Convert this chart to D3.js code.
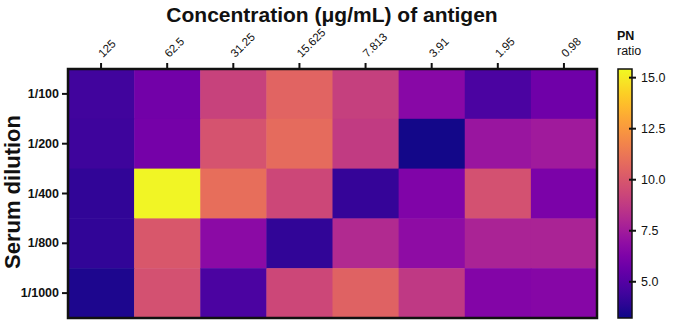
<!DOCTYPE html>
<html>
<head>
<meta charset="utf-8">
<script src="https://cdn.jsdelivr.net/npm/d3@7"></script>
<style>
  body { margin: 0; background: #fff; }
  #container { width: 676px; height: 320px; }
  text { font-family: "Liberation Sans", Arial, sans-serif; }
</style>
</head>
<body>
<div id="container"></div>
<script>
// concentrations (columns) and serum dilutions (rows)
const concentrations = ["125", "62.5", "31.25", "15.625", "7.813", "3.91", "1.95", "0.98"];
const dilutions = ["1/100", "1/200", "1/400", "1/800", "1/1000"];

// PN ratio per row
const pn_1_100  = [4.4, 5.9, 9.1, 10.5, 9.0, 6.6, 4.7, 5.8];
const pn_1_200  = [4.3, 6.0, 9.8, 10.8, 8.8, 3.3, 7.2, 7.4];
const pn_1_400  = [4.0, 15.3, 10.9, 9.3, 4.1, 6.3, 9.7, 6.2];
const pn_1_800  = [4.0, 10.0, 6.7, 4.0, 8.1, 6.8, 7.8, 7.8];
const pn_1_1000 = [3.5, 9.7, 4.7, 9.3, 10.4, 8.7, 6.4, 6.5];

const colorTicks = [5.0, 7.5, 10.0, 12.5, 15.0];
const colorDomain = [3.2, 15.4];

const rows = [pn_1_100, pn_1_200, pn_1_400, pn_1_800, pn_1_1000];
const cells = [];
rows.forEach((vals, r) => {
  vals.forEach((v, c) => cells.push({row: dilutions[r], col: concentrations[c], value: v}));
});

const margin = {top: 69, left: 68};
const width = 529, height = 249;

const svg = d3.select("#container")
  .append("svg")
  .attr("width", 676)
  .attr("height", 320);

const g = svg.append("g")
  .attr("transform", `translate(${margin.left},${margin.top})`);

const x = d3.scaleBand().domain(concentrations).range([0, width]);
const y = d3.scaleBand().domain(dilutions).range([0, height]);
const color = d3.scaleSequential(d3.interpolatePlasma).domain(colorDomain);

g.selectAll(".cell")
  .data(cells)
  .enter()
  .append("rect")
  .attr("class", "cell")
  .attr("x", d => x(d.col))
  .attr("y", d => y(d.row))
  .attr("width", x.bandwidth() + 0.5)
  .attr("height", y.bandwidth() + 0.5)
  .attr("fill", d => color(d.value));

// frame
g.append("rect")
  .attr("width", width)
  .attr("height", height)
  .attr("fill", "none")
  .attr("stroke", "#111")
  .attr("stroke-width", 2.5);

// top axis
const xAxis = g.append("g")
  .call(d3.axisTop(x).tickSize(6).tickSizeOuter(0));
xAxis.select(".domain").remove();
xAxis.selectAll(".tick line").attr("stroke", "#111").attr("stroke-width", 2);
xAxis.selectAll(".tick text")
  .attr("font-size", "11.5px")
  .attr("fill", "#111")
  .attr("text-anchor", "start")
  .attr("x", 0)
  .attr("y", 0)
  .attr("dy", null)
  .attr("transform", "translate(2,-11) rotate(-45)");

// left axis
const yAxis = g.append("g")
  .call(d3.axisLeft(y).tickSize(6).tickSizeOuter(0).tickPadding(3));
yAxis.select(".domain").remove();
yAxis.selectAll(".tick line").attr("stroke", "#111").attr("stroke-width", 2);
yAxis.selectAll(".tick text")
  .attr("font-size", "12.5px")
  .attr("font-weight", "bold")
  .attr("fill", "#111");

// titles
svg.append("text")
  .attr("x", 332)
  .attr("y", 22)
  .attr("text-anchor", "middle")
  .attr("font-size", "21px")
  .attr("font-weight", "bold")
  .attr("fill", "#111")
  .text("Concentration (μg/mL) of antigen");

svg.append("text")
  .attr("transform", "translate(20,192) rotate(-90)")
  .attr("text-anchor", "middle")
  .attr("font-size", "22px")
  .attr("font-weight", "bold")
  .attr("fill", "#111")
  .text("Serum dilution");

// colour bar
const barX = 618, barW = 14;
const cy = d3.scaleLinear().domain(colorDomain).range([318, 69]);

const defs = svg.append("defs");
const grad = defs.append("linearGradient")
  .attr("id", "plasma")
  .attr("x1", 0).attr("y1", 1).attr("x2", 0).attr("y2", 0);
d3.range(0, 1.001, 0.05).forEach(t => {
  grad.append("stop")
    .attr("offset", t)
    .attr("stop-color", d3.interpolatePlasma(t));
});

svg.append("rect")
  .attr("x", barX)
  .attr("y", 69)
  .attr("width", barW)
  .attr("height", 249)
  .attr("fill", "url(#plasma)")
  .attr("stroke", "#111")
  .attr("stroke-width", 1.5);

const cAxis = svg.append("g")
  .attr("transform", `translate(${barX + barW},0)`)
  .call(d3.axisRight(cy).tickValues(colorTicks).tickFormat(d3.format(".1f")).tickSize(4).tickPadding(5));
cAxis.select(".domain").remove();
cAxis.selectAll(".tick line").attr("stroke", "#111").attr("stroke-width", 2).attr("x1", -3);
cAxis.selectAll(".tick text")
  .attr("font-size", "12.5px")
  .attr("fill", "#111");

svg.append("text")
  .attr("x", 617)
  .attr("y", 40)
  .attr("font-size", "12.5px")
  .attr("font-weight", "bold")
  .attr("fill", "#111")
  .text("PN");

svg.append("text")
  .attr("x", 617)
  .attr("y", 55)
  .attr("font-size", "12.5px")
  .attr("fill", "#111")
  .text("ratio");
</script>
</body>
</html>
